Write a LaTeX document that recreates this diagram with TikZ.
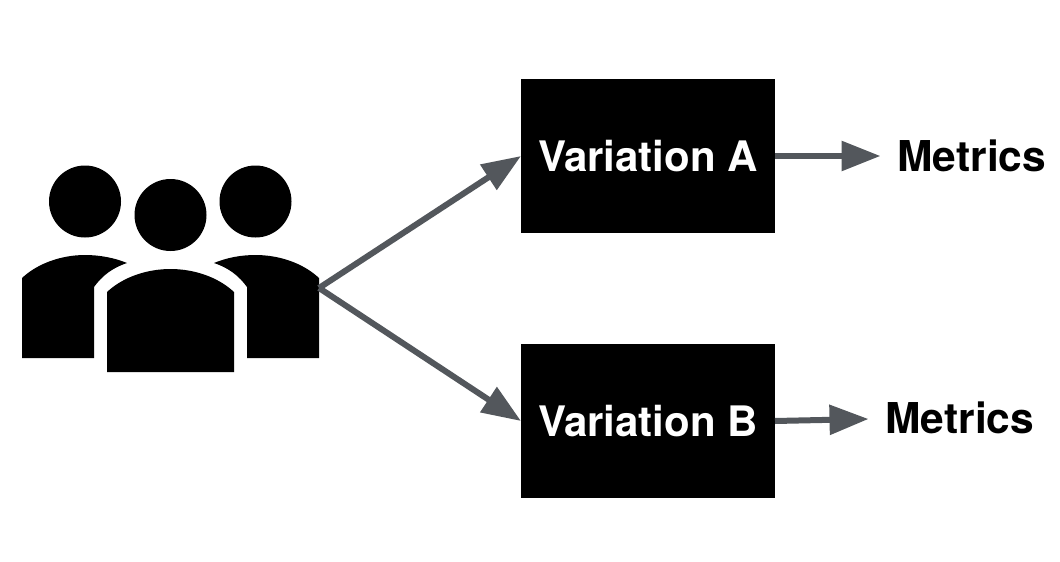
\documentclass[tikz,border=0pt]{standalone}
\usepackage{fontspec}
\setmainfont{TeX Gyre Heros}
\usetikzlibrary{arrows.meta}
\definecolor{arrowgray}{HTML}{53575C}
\tikzset{
  x=1pt,y=-1pt,
  vbox/.style={fill=black,draw=none,minimum width=254pt,minimum height=154pt,inner sep=0pt,outer sep=0pt,anchor=north west,text=white,font=\fontsize{42}{44}\selectfont\bfseries},
  metric/.style={inner sep=0pt,outer sep=0pt,anchor=base west,text=black,font=\fontsize{42.5}{44}\selectfont\bfseries},
  flow/.style={draw=arrowgray,line width=6pt,-{Triangle[length=39pt,width=29pt]}},
  person/.style={fill=black,draw=none},
}
\begin{document}
\begin{tikzpicture}
\useasboundingbox (0,0) rectangle (1060,562);
% people icon
\fill[person] (85,201.5) circle[radius=36];
\fill[person] (170.5,215) circle[radius=36];
\fill[person] (255.5,201.5) circle[radius=36];
\fill[person] (22,278) .. controls (38,263) and (62,255) .. (85,255) .. controls (100,255) and (115,258) .. (127,263)
  .. controls (112,268) and (102,276) .. (94,287) -- (94,358) -- (22,358) -- cycle;
\fill[person] (107,292) .. controls (123,277) and (147,269) .. (170.5,269) .. controls (194,269) and (218,277) .. (234,292)
  -- (234,372) -- (107,372) -- cycle;
\fill[person] (319,278) .. controls (303,263) and (279,255) .. (255.5,255) .. controls (240,255) and (226,258) .. (214,263)
  .. controls (229,268) and (239,276) .. (247,287) -- (247,358) -- (319,358) -- cycle;
\coordinate (people) at (319,288);
% boxes
\node[vbox] (varA) at (521,79) {Variation A};
\node[vbox] (varB) at (521,344) {Variation B};
% metrics
\node[metric] (metA) at (897.5,171.5) {Metrics};
\node[metric] (metB) at (885.5,433) {Metrics};
\coordinate (endA) at (880.5,156);
\coordinate (endB) at (868.5,419);
% connectors
\draw[flow] (people) -- (varA.west);
\draw[flow] (people) -- (varB.west);
\draw[flow] (varA.east) -- (endA);
\draw[flow] (varB.east) -- (endB);
\end{tikzpicture}
\end{document}
